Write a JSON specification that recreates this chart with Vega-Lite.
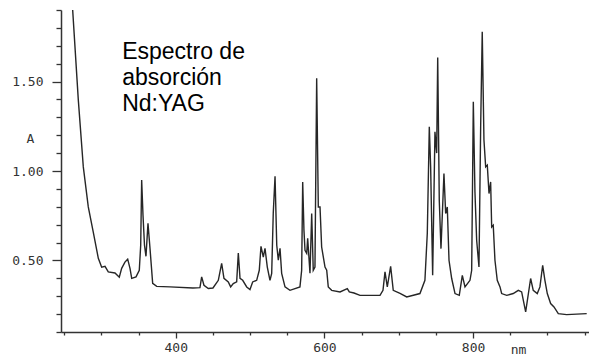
{
  "$schema": "https://vega.github.io/schema/vega-lite/v6.json",
  "width": 528,
  "height": 322,
  "autosize": {"type": "none"},
  "padding": {"left": 61, "top": 10, "right": 0, "bottom": 24},
  "background": "white",
  "config": {"view": {"stroke": null}},
  "datasets": {
    "spectrum": [
      {"nm": 261.4, "A": 1.9}, {"nm": 269.0, "A": 1.396}, {"nm": 275.7, "A": 1.023}, {"nm": 282.4, "A": 0.799},
      {"nm": 289.1, "A": 0.658}, {"nm": 295.9, "A": 0.512}, {"nm": 300.4, "A": 0.462}, {"nm": 304.9, "A": 0.467},
      {"nm": 309.3, "A": 0.436}, {"nm": 318.3, "A": 0.43}, {"nm": 324.1, "A": 0.406}, {"nm": 327.3, "A": 0.456},
      {"nm": 331.7, "A": 0.491}, {"nm": 335.4, "A": 0.507}, {"nm": 338.5, "A": 0.456}, {"nm": 340.8, "A": 0.4},
      {"nm": 346.6, "A": 0.408}, {"nm": 351.0, "A": 0.445}, {"nm": 352.9, "A": 0.585}, {"nm": 354.2, "A": 0.949},
      {"nm": 356.0, "A": 0.753}, {"nm": 358.0, "A": 0.585}, {"nm": 360.0, "A": 0.523}, {"nm": 362.7, "A": 0.708},
      {"nm": 365.4, "A": 0.568}, {"nm": 369.0, "A": 0.372}, {"nm": 374.4, "A": 0.355}, {"nm": 392.3, "A": 0.352},
      {"nm": 423.2, "A": 0.346}, {"nm": 432.6, "A": 0.348}, {"nm": 434.9, "A": 0.408}, {"nm": 438.0, "A": 0.361},
      {"nm": 443.8, "A": 0.343}, {"nm": 450.1, "A": 0.346}, {"nm": 457.3, "A": 0.389}, {"nm": 461.8, "A": 0.484},
      {"nm": 464.9, "A": 0.4}, {"nm": 470.7, "A": 0.38}, {"nm": 473.9, "A": 0.352}, {"nm": 477.4, "A": 0.371},
      {"nm": 482.0, "A": 0.38}, {"nm": 484.2, "A": 0.542}, {"nm": 486.5, "A": 0.4}, {"nm": 490.1, "A": 0.389},
      {"nm": 495.5, "A": 0.352}, {"nm": 499.9, "A": 0.337}, {"nm": 503.5, "A": 0.38}, {"nm": 508.9, "A": 0.389},
      {"nm": 512.4, "A": 0.445}, {"nm": 514.7, "A": 0.579}, {"nm": 517.8, "A": 0.519}, {"nm": 520.1, "A": 0.568},
      {"nm": 523.2, "A": 0.463}, {"nm": 526.8, "A": 0.389}, {"nm": 529.1, "A": 0.428}, {"nm": 531.2, "A": 0.764},
      {"nm": 533.6, "A": 0.971}, {"nm": 535.9, "A": 0.585}, {"nm": 538.0, "A": 0.501}, {"nm": 540.3, "A": 0.568},
      {"nm": 542.5, "A": 0.428}, {"nm": 547.0, "A": 0.352}, {"nm": 553.7, "A": 0.333}, {"nm": 567.1, "A": 0.352},
      {"nm": 569.4, "A": 0.445}, {"nm": 570.8, "A": 0.939}, {"nm": 572.5, "A": 0.669}, {"nm": 573.9, "A": 0.557},
      {"nm": 576.2, "A": 0.54}, {"nm": 577.5, "A": 0.624}, {"nm": 580.6, "A": 0.428}, {"nm": 582.9, "A": 0.762},
      {"nm": 585.0, "A": 0.445}, {"nm": 587.3, "A": 0.463}, {"nm": 589.6, "A": 1.518}, {"nm": 591.8, "A": 0.799},
      {"nm": 594.1, "A": 0.799}, {"nm": 596.3, "A": 0.575}, {"nm": 600.8, "A": 0.463}, {"nm": 603.1, "A": 0.445},
      {"nm": 605.2, "A": 0.352}, {"nm": 609.8, "A": 0.333}, {"nm": 621.0, "A": 0.324}, {"nm": 630.8, "A": 0.343},
      {"nm": 633.5, "A": 0.324}, {"nm": 639.8, "A": 0.318}, {"nm": 647.9, "A": 0.305}, {"nm": 661.3, "A": 0.305},
      {"nm": 674.8, "A": 0.305}, {"nm": 678.8, "A": 0.333}, {"nm": 681.5, "A": 0.436}, {"nm": 684.6, "A": 0.352},
      {"nm": 689.1, "A": 0.467}, {"nm": 692.6, "A": 0.333}, {"nm": 701.7, "A": 0.316}, {"nm": 710.7, "A": 0.296},
      {"nm": 728.5, "A": 0.315}, {"nm": 735.2, "A": 0.389}, {"nm": 738.4, "A": 0.652}, {"nm": 741.1, "A": 1.247},
      {"nm": 742.9, "A": 1.023}, {"nm": 745.6, "A": 0.417}, {"nm": 748.7, "A": 1.219}, {"nm": 751.0, "A": 1.1},
      {"nm": 752.4, "A": 1.635}, {"nm": 754.5, "A": 0.837}, {"nm": 756.8, "A": 0.566}, {"nm": 760.8, "A": 0.986},
      {"nm": 763.1, "A": 0.762}, {"nm": 765.3, "A": 0.799}, {"nm": 767.6, "A": 0.501}, {"nm": 771.2, "A": 0.399},
      {"nm": 775.7, "A": 0.315}, {"nm": 781.4, "A": 0.305}, {"nm": 785.5, "A": 0.417}, {"nm": 789.1, "A": 0.352},
      {"nm": 795.8, "A": 0.389}, {"nm": 798.1, "A": 0.445}, {"nm": 800.3, "A": 1.387}, {"nm": 802.5, "A": 0.883},
      {"nm": 804.8, "A": 0.613}, {"nm": 807.9, "A": 0.463}, {"nm": 810.2, "A": 1.256}, {"nm": 812.3, "A": 1.779},
      {"nm": 814.6, "A": 1.173}, {"nm": 816.9, "A": 1.023}, {"nm": 819.1, "A": 1.033}, {"nm": 821.4, "A": 0.874},
      {"nm": 823.6, "A": 0.939}, {"nm": 825.0, "A": 0.687}, {"nm": 827.1, "A": 0.697}, {"nm": 829.4, "A": 0.501},
      {"nm": 832.5, "A": 0.389}, {"nm": 836.2, "A": 0.352}, {"nm": 838.4, "A": 0.315}, {"nm": 845.2, "A": 0.305},
      {"nm": 854.0, "A": 0.315}, {"nm": 860.8, "A": 0.333}, {"nm": 865.3, "A": 0.324}, {"nm": 870.7, "A": 0.212},
      {"nm": 877.4, "A": 0.399}, {"nm": 880.9, "A": 0.333}, {"nm": 886.3, "A": 0.315}, {"nm": 889.9, "A": 0.352},
      {"nm": 893.6, "A": 0.473}, {"nm": 896.6, "A": 0.389}, {"nm": 899.8, "A": 0.315}, {"nm": 904.3, "A": 0.259},
      {"nm": 908.8, "A": 0.24}, {"nm": 914.6, "A": 0.203}, {"nm": 925.9, "A": 0.197}, {"nm": 952.8, "A": 0.203}
    ]
  },
  "layer": [
    {
      "data": {"name": "spectrum"},
      "mark": {"type": "line", "color": "#262626", "strokeWidth": 1.4, "clip": true},
      "encoding": {
        "x": {
          "field": "nm", "type": "quantitative",
          "scale": {"domain": [245.7, 955.9], "nice": false, "zero": false},
          "axis": {
            "values": [250, 300, 350, 400, 450, 500, 550, 600, 650, 700, 750, 800, 850, 900, 950],
            "tickCount": 100,
            "labelExpr": "datum.value % 200 == 0 ? datum.label : ''",
            "labelOverlap": false,
            "tickSize": {"condition": {"test": "datum.value % 200 == 0", "value": 6}, "value": 3},
            "grid": false,
            "domainColor": "#333", "domainWidth": 1.5,
            "tickColor": "#333", "tickWidth": 1.3,
            "labelFont": "DejaVu Sans Mono", "labelFontSize": 13, "labelColor": "#333",
            "labelPadding": 3,
            "title": "nm",
            "titleFont": "DejaVu Sans Mono", "titleFontSize": 13, "titleFontWeight": "normal", "titleColor": "#333",
            "titleX": 457, "titleY": 21, "titleBaseline": "alphabetic", "titleAlign": "center"
          }
        },
        "y": {
          "field": "A", "type": "quantitative",
          "scale": {"domain": [0.1, 1.9], "nice": false, "zero": false},
          "axis": {
            "values": [0.1, 0.2, 0.3, 0.4, 0.5, 0.6, 0.7, 0.8, 0.9, 1.0, 1.1, 1.2, 1.3, 1.4, 1.5, 1.6, 1.7, 1.8, 1.9],
            "tickCount": 100,
            "labelExpr": "abs(datum.value*2 - round(datum.value*2)) < 0.001 && datum.value > 0.4 ? format(datum.value, '.2f') : ''",
            "labelOverlap": false,
            "tickSize": {"condition": {"test": "abs(datum.value*2 - round(datum.value*2)) < 0.001", "value": 9}, "value": 5},
            "grid": false,
            "domainColor": "#333", "domainWidth": 1.5,
            "tickColor": "#333", "tickWidth": 1.3,
            "labelFont": "DejaVu Sans Mono", "labelFontSize": 13, "labelColor": "#333",
            "labelPadding": 9,
            "title": "A", "titleAngle": 0,
            "titleFont": "DejaVu Sans Mono", "titleFontSize": 13, "titleFontWeight": "normal", "titleColor": "#333",
            "titleX": -31, "titleY": 128, "titleBaseline": "middle", "titleAlign": "center"
          }
        }
      }
    },
    {
      "data": {"values": [{"label": "Espectro de\nabsorción\nNd:YAG"}]},
      "mark": {"type": "text", "align": "left", "baseline": "alphabetic", "font": "Liberation Sans", "fontSize": 23, "lineHeight": 26, "lineBreak": "\n", "color": "#000"},
      "encoding": {
        "x": {"datum": 328, "type": "quantitative"},
        "y": {"datum": 1.626, "type": "quantitative"},
        "text": {"field": "label"}
      }
    }
  ]
}
